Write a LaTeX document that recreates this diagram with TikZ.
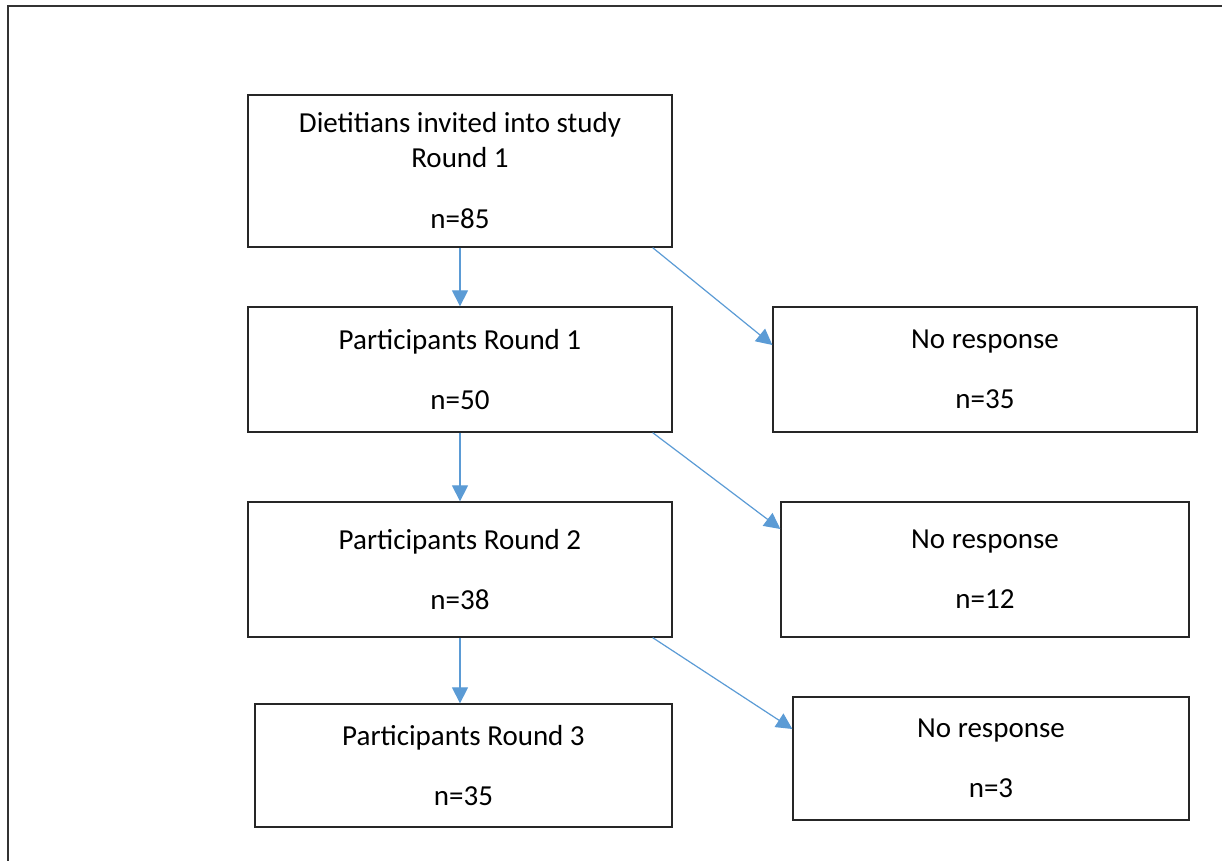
\documentclass[tikz,border=0pt]{standalone}
\usepackage{fontspec}
\setmainfont{Carlito}
\usetikzlibrary{arrows.meta}
\definecolor{arrowblue}{RGB}{91,155,213}

\begin{document}
\begin{tikzpicture}[x=1pt,y=-1pt]
				\tikzstyle{every node}=[font=\fontsize{29}{35}\selectfont]
				\tikzstyle{box}=[draw=black!85,line width=1.3pt,rectangle,align=center,inner sep=0pt]
				\tikzstyle{flow}=[draw=arrowblue,line width=1.2pt,-{Triangle[length=16pt,width=16pt]}]
				\useasboundingbox (0,0) rectangle (1222,861);
				\draw[line width=1.5pt,black!80] (8,861) -- (8,6) -- (1222,6);
				\node[box,minimum width=424pt,minimum height=152pt] (invited) at (460,171) {Dietitians invited into study\\Round 1\\[26pt]n=85};
				\node[box,minimum width=424pt,minimum height=125pt] (round1) at (460,369.5) {Participants Round 1\\[25pt]n=50};
				\node[box,minimum width=424pt,minimum height=135pt] (round2) at (460,569.5) {Participants Round 2\\[25pt]n=38};
				\node[box,minimum width=417pt,minimum height=123pt] (round3) at (463.5,765.5) {Participants Round 3\\[25pt]n=35};
				\node[box,minimum width=424pt,minimum height=125pt] (noresp1) at (985,369.5) {No response\\[25pt]n=35};
				\node[box,minimum width=408pt,minimum height=135pt] (noresp2) at (985,569.5) {No response\\[25pt]n=12};
				\node[box,minimum width=396pt,minimum height=123pt] (noresp3) at (991,758.5) {No response\\[25pt]n=3};
				\draw[flow] (invited.south) -- (round1.north);
				\draw[flow] (round1.south) -- (round2.north);
				\draw[flow] (round2.south) -- (round2.south |- round3.north);
				\draw[flow] ([xshift=-20pt]invited.south east) -- ([yshift=24.5pt]noresp1.west);
				\draw[flow] ([xshift=-20pt]round1.south east) -- ([yshift=40.5pt]noresp2.west);
				\draw[flow] ([xshift=-20pt]round2.south east) -- ([yshift=29.5pt]noresp3.west);
			\end{tikzpicture}
\end{document}
